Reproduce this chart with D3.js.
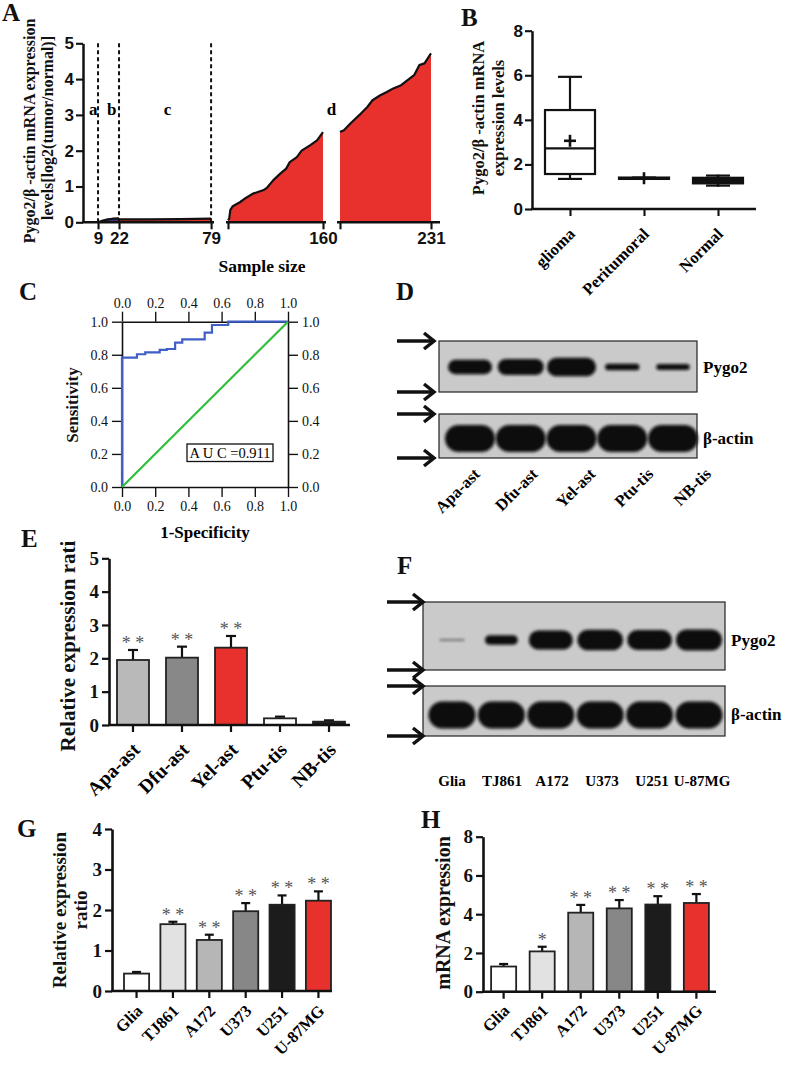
<!DOCTYPE html>
<html><head><meta charset="utf-8">
<script src="https://cdn.jsdelivr.net/npm/d3@7"></script>
<style>body{margin:0;background:#fff}svg{display:block}</style>
</head><body>
<svg id="c" width="787" height="1069"></svg>
<script>
// ---------------- DATA ----------------
// Panel A
const aTickValues1 = [9, 22, 79];
const aTickValues2 = [80, 160];
const aTickValues3 = [161, 231];
const aTickLabelsShown = [9, 22, 79, 160, 231];
const aYTicks = [0, 1, 2, 3, 4, 5];
const aDividers = [9, 22, 79];
const aRegionNames = ["a", "b", "c", "d"];
const aRegionSamples = [6, 17.5, 52, 160.5];
const aSegBSamples = [9, 12, 15, 18, 22];
const aSegBValues = [0.0, 0.05, 0.08, 0.1, 0.11];
const aSegCSamples = [22, 40, 60, 79];
const aSegCValues = [0.08, 0.08, 0.09, 0.1];
const aSegD1Samples = [80, 81, 82, 84, 90, 95, 101, 110, 113, 118, 124, 129, 132, 138, 142, 149, 155, 160];
const aSegD1Values = [0.06, 0.1, 0.35, 0.45, 0.56, 0.68, 0.8, 0.9, 0.97, 1.17, 1.36, 1.5, 1.68, 1.82, 2.0, 2.15, 2.29, 2.52];
const aSegD2Samples = [161, 164, 169, 176, 182, 186, 192, 197, 202, 208, 213, 218, 222, 226, 231];
const aSegD2Values = [2.52, 2.57, 2.76, 3.0, 3.22, 3.41, 3.55, 3.64, 3.74, 3.83, 3.97, 4.11, 4.39, 4.44, 4.72];

// Panel B (box plots)
const bCats = ["glioma", "Peritumoral", "Normal"];
const bMin = [1.35, 1.35, 1.05];
const bQ1 = [1.57, 1.35, 1.15];
const bMed = [2.72, 1.38, 1.28];
const bQ3 = [4.44, 1.41, 1.40];
const bMax = [5.93, 1.41, 1.50];
const bMean = [3.06, 1.38, 1.27];
const bYTicks = [0, 2, 4, 6, 8];

// Panel C (ROC)
const cFpr = [0, 0.09, 0.14, 0.227, 0.27, 0.32, 0.363, 0.498, 0.542, 0.64, 1.0];
const cTpr = [0, 0.783, 0.803, 0.815, 0.83, 0.835, 0.873, 0.893, 0.934, 0.98, 1.0];
const cTicks = [0, 0.2, 0.4, 0.6, 0.8, 1.0];
const cAUC = "A U C =0.911";

// Panel D (western blot)
const dLanes = ["Apa-ast", "Dfu-ast", "Yel-ast", "Ptu-tis", "NB-tis"];
const dPygo2 = [0.9, 1.0, 1.15, 0.42, 0.38];
const dActin = [1, 1, 1, 1, 1];
const dRows = ["Pygo2", "β-actin"];

// Panel E
const eCats = ["Apa-ast", "Dfu-ast", "Yel-ast", "Ptu-tis", "NB-tis"];
const eVals = [1.95, 2.02, 2.32, 0.2, 0.1];
const eErrs = [0.3, 0.33, 0.35, 0.05, 0.04];
const eSig = ["* *", "* *", "* *", "", ""];
const eYTicks = [0, 1, 2, 3, 4, 5];

// Panel F (western blot)
const fLanes = ["Glia", "TJ861", "A172", "U373", "U251", "U-87MG"];
const fPygo2 = [0.15, 0.5, 1.0, 1.08, 1.04, 1.1];
const fActin = [1, 1, 1, 1, 1, 1];
const fRows = ["Pygo2", "β-actin"];

// Panel G
const gCats = ["Glia", "TJ861", "A172", "U373", "U251", "U-87MG"];
const gVals = [0.43, 1.65, 1.26, 1.97, 2.13, 2.23];
const gErrs = [0.04, 0.06, 0.13, 0.2, 0.23, 0.23];
const gSig = ["", "* *", "* *", "* *", "* *", "* *"];
const gYTicks = [0, 1, 2, 3, 4];

// Panel H
const hCats = ["Glia", "TJ861", "A172", "U373", "U251", "U-87MG"];
const hVals = [1.3, 2.08, 4.08, 4.3, 4.5, 4.58];
const hErrs = [0.13, 0.24, 0.4, 0.43, 0.43, 0.46];
const hSig = ["", "*", "* *", "* *", "* *", "* *"];
const hYTicks = [0, 2, 4, 6, 8];

// ---------------- STYLE ----------------
const RED = "#e8312c";
const ePalette = ["#b9b9b9", "#888888", RED, "#ffffff", "#1c1c1c"];
const ghPalette = ["#ffffff", "#e2e2e2", "#b6b6b6", "#878787", "#1c1c1c", RED];
const SERIF = "'Liberation Serif','Times New Roman',serif";
const SANS = "'Liberation Sans',Arial,sans-serif";
const fmtInt = d3.format("d");

const svg = d3.select("#c");
svg.append("rect").attr("width", 787).attr("height", 1069).attr("fill", "#fff");
const defs = svg.append("defs");
defs.append("filter").attr("id", "blur").attr("x", "-20%").attr("y", "-50%").attr("width", "140%").attr("height", "200%")
  .append("feGaussianBlur").attr("stdDeviation", 1.4);

function panelLabel(t, x, y) {
  svg.append("text").attr("x", x).attr("y", y).text(t)
    .attr("font-family", SERIF).attr("font-weight", "bold").attr("font-size", 25).attr("fill", "#111");
}
function vTitle(t, x, y, size) {
  svg.append("text").attr("transform", `translate(${x},${y}) rotate(-90)`)
    .attr("text-anchor", "middle").attr("dy", "0.35em").text(t)
    .attr("font-family", SERIF).attr("font-weight", "bold").attr("font-size", size).attr("fill", "#111");
}
function styleAxis(g, font, size, weight, sw) {
  g.select(".domain").attr("stroke", "#111").attr("stroke-width", sw);
  g.selectAll(".tick line").attr("stroke", "#111").attr("stroke-width", sw * 0.85);
  g.selectAll(".tick text").attr("font-family", font).attr("font-size", size).attr("font-weight", weight).attr("fill", "#111");
}

// ---------------- PANEL A ----------------
panelLabel("A", 2, 21);
const yA = d3.scaleLinear().domain([0, 5]).range([222.3, 43.3]);
const xA1 = d3.scaleLinear().domain([0, 80]).range([83.5, 212.7]);
const xA2 = d3.scaleLinear().domain([80, 160]).range([228, 323]);
const xA3 = d3.scaleLinear().domain([161, 231]).range([340, 431]);
const segScale = s => s <= 80 ? xA1(s) : (s <= 160 ? xA2(s) : xA3(s));

function aArea(samples, values, scale, fill) {
  const pts = samples.map((s, i) => [scale(s), yA(values[i])]);
  svg.append("path").datum(pts)
    .attr("d", d3.area().x(d => d[0]).y0(yA(0)).y1(d => d[1]))
    .attr("fill", fill);
  svg.append("path").datum(pts)
    .attr("d", d3.line().x(d => d[0]).y(d => d[1]))
    .attr("fill", "none").attr("stroke", "#111").attr("stroke-width", 2.2).attr("stroke-linejoin", "round");
}
aArea(aSegBSamples, aSegBValues, xA1, "#3d2f86");
aArea(aSegCSamples, aSegCValues, xA1, RED);
aArea(aSegD1Samples, aSegD1Values, xA2, RED);
aArea(aSegD2Samples, aSegD2Values, xA3, RED);

svg.selectAll("line.div").data(aDividers).join("line").attr("class", "div")
  .attr("x1", d => xA1(d)).attr("x2", d => xA1(d)).attr("y1", yA(0)).attr("y2", yA(5))
  .attr("stroke", "#111").attr("stroke-width", 2).attr("stroke-dasharray", "4,3");

svg.selectAll("text.reg").data(aRegionNames).join("text").attr("class", "reg")
  .attr("x", (d, i) => i === 3 ? (xA2(160) + xA3(161)) / 2 : segScale(aRegionSamples[i]))
  .attr("y", yA(3.0))
  .attr("text-anchor", "middle").text(d => d)
  .attr("font-family", SERIF).attr("font-weight", "bold").attr("font-size", 17);

const gAy = svg.append("g").attr("transform", `translate(83,0)`)
  .call(d3.axisLeft(yA).tickValues(aYTicks).tickFormat(fmtInt).tickSize(7).tickPadding(2).tickSizeOuter(0));
styleAxis(gAy, SANS, 17, "bold", 2.5);

function aXSeg(scale, ticks, x0, x1) {
  const g = svg.append("g").attr("transform", `translate(0,${yA(0)})`)
    .call(d3.axisBottom(scale).tickValues(ticks).tickSize(7).tickPadding(3)
      .tickFormat(d => aTickLabelsShown.includes(d) ? d : ""));
  g.select(".domain").remove();
  g.append("line").attr("x1", x0).attr("x2", x1).attr("stroke", "#111").attr("stroke-width", 2.5);
  styleAxis(g, SANS, 17, "bold", 2.5);
}
aXSeg(xA1, aTickValues1, 82, 214);
aXSeg(xA2, aTickValues2, 226, 326);
aXSeg(xA3, aTickValues3, 337, 440);

vTitle("Pygo2/β -actin mRNA expression", 29, 131, 16);
vTitle("levels[log2(tumor/normal)]", 47, 128, 16);
svg.append("text").attr("x", 262).attr("y", 272).attr("text-anchor", "middle").text("Sample size")
  .attr("font-family", SERIF).attr("font-weight", "bold").attr("font-size", 17.5);

// ---------------- PANEL B ----------------
panelLabel("B", 461, 26);
const yB = d3.scaleLinear().domain([0, 8]).range([209, 30.7]);
const xB = d3.scalePoint().domain(bCats).range([570, 718]);
const gB = svg.append("g");
bCats.forEach((c, i) => {
  const cx = xB(c), bw = 50, cw = 24;
  const line = (x1, y1, x2, y2, w) => gB.append("line").attr("x1", x1).attr("y1", y1).attr("x2", x2).attr("y2", y2)
    .attr("stroke", "#111").attr("stroke-width", w || 2.2);
  line(cx, yB(bMax[i]), cx, yB(bQ3[i]));
  line(cx, yB(bQ1[i]), cx, yB(bMin[i]));
  line(cx - cw / 2, yB(bMax[i]), cx + cw / 2, yB(bMax[i]));
  line(cx - cw / 2, yB(bMin[i]), cx + cw / 2, yB(bMin[i]));
  const bh = yB(bQ1[i]) - yB(bQ3[i]);
  gB.append("rect").attr("x", cx - bw / 2).attr("y", yB(bQ3[i])).attr("width", bw)
    .attr("height", bh).attr("fill", bh < 8 ? "#111" : "#fff").attr("stroke", "#111").attr("stroke-width", 2.2);
  line(cx - bw / 2, yB(bMed[i]), cx + bw / 2, yB(bMed[i]));
  const my = yB(bMean[i]);
  line(cx - 6, my, cx + 6, my, 2.6);
  line(cx, my - 6, cx, my + 6, 2.6);
});
const gBy = svg.append("g").attr("transform", "translate(532,0)")
  .call(d3.axisLeft(yB).tickValues(bYTicks).tickFormat(fmtInt).tickSize(7).tickPadding(2).tickSizeOuter(0));
styleAxis(gBy, SANS, 17, "bold", 2.5);
const gBx = svg.append("g").attr("transform", `translate(0,${yB(0)})`)
  .call(d3.axisBottom(xB).tickSize(7).tickFormat(""));
gBx.select(".domain").remove();
gBx.append("line").attr("x1", 531).attr("x2", 756).attr("stroke", "#111").attr("stroke-width", 2.5);
styleAxis(gBx, SANS, 16, "bold", 2.5);
svg.selectAll("text.bl").data(bCats).join("text").attr("class", "bl")
  .attr("transform", d => `translate(${xB(d) + 6},${yB(0) + 26}) rotate(-45)`)
  .attr("text-anchor", "end").text(d => d)
  .attr("font-family", SERIF).attr("font-weight", "bold").attr("font-size", 16.5);
vTitle("Pygo2/β -actin mRNA", 478, 118, 16.5);
vTitle("expression levels", 498, 118, 16.5);

// ---------------- PANEL C ----------------
panelLabel("C", 19, 300);
const xC = d3.scaleLinear().domain([0, 1]).range([122, 288]);
const yC = d3.scaleLinear().domain([0, 1]).range([487, 321.7]);
const fmtC = d3.format(".1f");
[[d3.axisLeft(yC), `translate(122,0)`], [d3.axisRight(yC), `translate(288,0)`],
 [d3.axisTop(xC), `translate(0,321.7)`], [d3.axisBottom(xC), `translate(0,487)`]].forEach(([ax, tr]) => {
  const g = svg.append("g").attr("transform", tr)
    .call(ax.tickValues(cTicks).tickFormat(fmtC).tickSize(10).tickPadding(4).tickSizeOuter(0));
  styleAxis(g, SERIF, 14, "normal", 1.6);
});
svg.append("path").datum(cFpr.map((f, i) => [xC(f), yC(cTpr[i])]))
  .attr("d", d3.line().curve(d3.curveStepBefore))
  .attr("fill", "none").attr("stroke", "#3f5fc6").attr("stroke-width", 2.2);
svg.append("line").attr("x1", xC(0)).attr("y1", yC(0)).attr("x2", xC(1)).attr("y2", yC(1))
  .attr("stroke", "#2fbf3c").attr("stroke-width", 2.2);
svg.append("rect").attr("x", 187).attr("y", 444).attr("width", 86).attr("height", 17.5)
  .attr("fill", "#fff").attr("stroke", "#111").attr("stroke-width", 1.3);
svg.append("text").attr("x", 230).attr("y", 457.5).attr("text-anchor", "middle").text(cAUC)
  .attr("font-family", SERIF).attr("font-size", 14.5);
vTitle("Sensitivity", 72, 405, 17);
svg.append("text").attr("x", 205).attr("y", 538).attr("text-anchor", "middle").text("1-Specificity")
  .attr("font-family", SERIF).attr("font-weight", "bold").attr("font-size", 17);

// ---------------- BLOTS ----------------
function arrow(x0, x1, y) {
  svg.append("line").attr("x1", x0).attr("x2", x1 - 2).attr("y1", y).attr("y2", y)
    .attr("stroke", "#111").attr("stroke-width", 3.5);
  svg.append("path").attr("d", `M${x1 - 10},${y - 8}L${x1},${y}L${x1 - 10},${y + 8}`)
    .attr("fill", "none").attr("stroke", "#111").attr("stroke-width", 3.5).attr("stroke-linejoin", "miter");
}
function blot(o) {
  const x = d3.scalePoint().domain(o.lanes).range(o.laneRange);
  const wS = d3.scaleLinear().domain([0, 1]).range([o.wMin, o.wMax]);
  const hS = d3.scaleLinear().domain([0, 1]).range([0, o.hMax]);
  [[o.up, o.upY, o.upper, false], [o.lo, o.loY, o.lower, true]].forEach(([yy, bandY, vals, isLow]) => {
    svg.append("rect").attr("x", o.x0).attr("y", yy[0]).attr("width", o.x1 - o.x0).attr("height", yy[1] - yy[0])
      .attr("fill", "#cacaca").attr("stroke", "#222").attr("stroke-width", 1.2);
    const W = i => isLow ? o.actinW : wS(vals[i]);
    const H = i => isLow ? o.actinH : hS(vals[i]);
    svg.selectAll(null).data(o.lanes).join("rect")
      .attr("x", (d, i) => x(d) - W(i) / 2).attr("width", (d, i) => W(i))
      .attr("y", (d, i) => bandY - H(i) / 2).attr("height", (d, i) => H(i))
      .attr("rx", (d, i) => H(i) / 2)
      .attr("fill", (d, i) => vals[i] < 0.3 ? "#777" : "#0c0c0c")
      .attr("opacity", (d, i) => vals[i] < 0.3 ? 0.8 : 1)
      .attr("filter", "url(#blur)");
  });
  [o.up[0], o.up[1], o.lo[0], o.lo[1]].forEach(y => arrow(o.ax0, o.ax1, y));
  svg.append("text").attr("x", o.x1 + 6).attr("y", o.upY + 6).text(o.rows[0])
    .attr("font-family", SERIF).attr("font-weight", "bold").attr("font-size", 17);
  svg.append("text").attr("x", o.x1 + 6).attr("y", o.loY + 5).text(o.rows[1])
    .attr("font-family", SERIF).attr("font-weight", "bold").attr("font-size", 17);
  return x;
}
panelLabel("D", 396, 300);
blot({lanes: dLanes, laneRange: [470, 673], x0: 439, x1: 697, up: [341, 392], lo: [414, 458],
  upY: 367, loY: 438.5, upper: dPygo2, lower: dActin, wMin: 26, wMax: 46, hMax: 16, actinW: 50, actinH: 27,
  ax0: 397, ax1: 434, rows: dRows});
const dLab = d3.scalePoint().domain(dLanes).range([481, 712]);
svg.selectAll("text.dl").data(dLanes).join("text").attr("class", "dl")
  .attr("transform", d => `translate(${dLab(d)},${475}) rotate(-45)`)
  .attr("text-anchor", "end").text(d => d)
  .attr("font-family", SERIF).attr("font-weight", "bold").attr("font-size", 16.5);

panelLabel("F", 397, 574);
blot({lanes: fLanes, laneRange: [452, 699], x0: 423, x1: 725, up: [602, 670], lo: [686, 736],
  upY: 640, loY: 715, upper: fPygo2, lower: fActin, wMin: 22, wMax: 44, hMax: 19, actinW: 47, actinH: 27,
  ax0: 387, ax1: 423, rows: fRows});
const fLab = d3.scalePoint().domain(fLanes).range([452, 702]);
svg.selectAll("text.fl").data(fLanes).join("text").attr("class", "fl")
  .attr("x", d => fLab(d)).attr("y", 786).attr("text-anchor", "middle").text(d => d)
  .attr("font-family", SERIF).attr("font-weight", "bold").attr("font-size", 15);

// ---------------- BAR PANELS ----------------
function barPanel(o) {
  const y = d3.scaleLinear().domain([0, o.yMax]).range([o.y0, o.y1]);
  const x = d3.scaleBand().domain(o.cats).range(o.xr).paddingInner(o.pi).paddingOuter(o.po);
  const cx = d => x(d) + x.bandwidth() / 2;
  const top = i => y(o.vals[i] + o.errs[i]);
  svg.selectAll(null).data(o.cats).join("line")
    .attr("x1", cx).attr("x2", cx).attr("y1", (d, i) => y(o.vals[i])).attr("y2", (d, i) => top(i))
    .attr("stroke", "#111").attr("stroke-width", 2.2);
  svg.selectAll(null).data(o.cats).join("line")
    .attr("x1", d => cx(d) - o.cap / 2).attr("x2", d => cx(d) + o.cap / 2)
    .attr("y1", (d, i) => top(i)).attr("y2", (d, i) => top(i))
    .attr("stroke", "#111").attr("stroke-width", 2.2);
  svg.selectAll(null).data(o.cats).join("rect")
    .attr("x", d => x(d)).attr("width", x.bandwidth())
    .attr("y", (d, i) => y(o.vals[i])).attr("height", (d, i) => o.y0 - y(o.vals[i]))
    .attr("fill", (d, i) => o.colors[i]).attr("stroke", "#222").attr("stroke-width", 1.8);
  svg.selectAll(null).data(o.cats).join("text")
    .attr("x", cx).attr("y", (d, i) => top(i) - 1)
    .attr("text-anchor", "middle").text((d, i) => o.sig[i])
    .attr("font-family", SERIF).attr("font-size", 18).attr("fill", "#555");
  const gy = svg.append("g").attr("transform", `translate(${o.xr[0]},0)`)
    .call(d3.axisLeft(y).tickValues(o.ticks).tickFormat(fmtInt).tickSize(7).tickPadding(3).tickSizeOuter(0));
  styleAxis(gy, SERIF, o.tickFont, "bold", 2.6);
  const gx = svg.append("g").attr("transform", `translate(0,${o.y0})`)
    .call(d3.axisBottom(x).tickSize(7).tickFormat(""));
  gx.select(".domain").remove();
  gx.append("line").attr("x1", o.xr[0] - 1).attr("x2", o.axisEnd).attr("stroke", "#111").attr("stroke-width", 2.6);
  styleAxis(gx, SERIF, 16, "bold", 2.6);
  svg.selectAll(null).data(o.cats).join("text")
    .attr("transform", d => `translate(${cx(d) + o.lab[0]},${o.y0 + o.lab[1]}) rotate(-45)`)
    .attr("text-anchor", "end").text(d => d)
    .attr("font-family", SERIF).attr("font-weight", "bold").attr("font-size", o.labFont);
}

panelLabel("E", 21, 547);
barPanel({cats: eCats, vals: eVals, errs: eErrs, sig: eSig, colors: ePalette, yMax: 5, ticks: eYTicks,
  y0: 725, y1: 558.3, xr: [109, 353], pi: 0.347, po: 0.163, axisEnd: 350, cap: 10, tickFont: 19,
  lab: [8, 26], labFont: 19.5});
vTitle("Relative expression rati", 68, 646, 21);

panelLabel("G", 17, 837);
barPanel({cats: gCats, vals: gVals, errs: gErrs, sig: gSig, colors: ghPalette, yMax: 4, ticks: gYTicks,
  y0: 991, y1: 829, xr: [112, 343], pi: 0.31, po: 0.33, axisEnd: 332, cap: 9, tickFont: 19,
  lab: [7, 21], labFont: 16.5});
vTitle("Relative expression", 59, 910, 19);
vTitle("ratio", 80, 910, 19);

panelLabel("H", 421, 828);
barPanel({cats: hCats, vals: hVals, errs: hErrs, sig: hSig, colors: ghPalette, yMax: 8, ticks: hYTicks,
  y0: 991.7, y1: 836.7, xr: [483, 717], pi: 0.35, po: 0.21, axisEnd: 716, cap: 9, tickFont: 19,
  lab: [7, 20], labFont: 16.5});
vTitle("mRNA expression", 443, 913, 20);
</script>
</body></html>
